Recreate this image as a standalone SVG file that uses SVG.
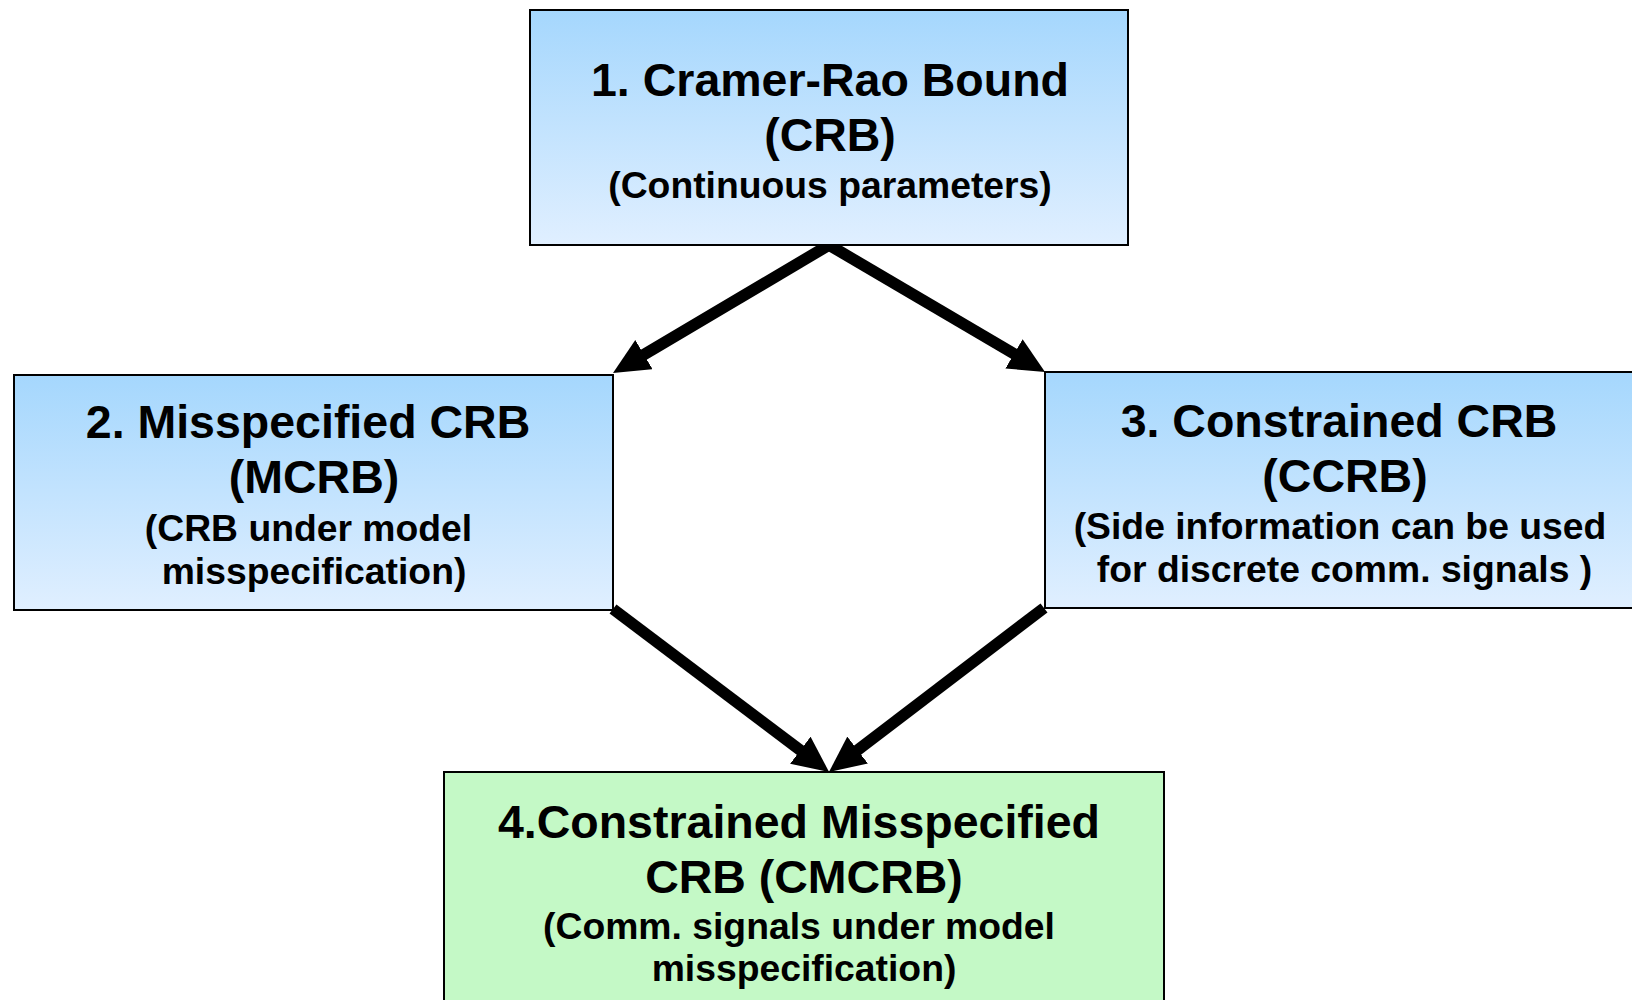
<svg xmlns="http://www.w3.org/2000/svg" width="1632" height="1000" viewBox="0 0 1632 1000">
  <style>
    .box { stroke: #000; stroke-width: 2; }
    .blue { fill: url(#blueFill); }
    .green { fill: #c4f9c6; }
    .title { font-family: "Liberation Sans", Arial, sans-serif; font-weight: bold; font-size: 46.5px; fill: #000; text-anchor: middle; }
    .sub { font-family: "Liberation Sans", Arial, sans-serif; font-weight: bold; font-size: 37.3px; fill: #000; text-anchor: middle; }
    .edge { fill: none; stroke: #000; stroke-width: 11.5; marker-end: url(#head); }
  </style>
  <defs>
    <linearGradient id="blueFill" x1="0" y1="0" x2="0" y2="1">
      <stop offset="0" stop-color="#a5d7fd"/>
      <stop offset="1" stop-color="#e0efff"/>
    </linearGradient>
    <marker id="head" markerUnits="userSpaceOnUse" viewBox="0 0 36 34" markerWidth="36" markerHeight="34" refX="16" refY="17" orient="auto">
      <path d="M0,0 L36,17 L0,34 Z" fill="#000"/>
    </marker>
  </defs>

  <rect width="1632" height="1000" fill="#fff"/>

  <!-- connectors -->
  <g id="connectors">
    <path class="edge" d="M829,245 L630.2,362.8"/>
    <path class="edge" d="M829,245 L1027.8,361.9"/>
    <path class="edge" d="M613,609 L813.1,759.9"/>
    <path class="edge" d="M1044,608 L844.9,759.8"/>
  </g>

  <!-- node 1 -->
  <g id="node-crb">
    <rect class="box blue" x="530" y="10" width="598" height="235"/>
    <text class="title" x="830" y="96">1. Cramer-Rao Bound</text>
    <text class="title" x="830" y="151">(CRB)</text>
    <text class="sub" x="830" y="198">(Continuous parameters)</text>
  </g>

  <!-- node 2 -->
  <g id="node-mcrb">
    <rect class="box blue" x="14" y="375" width="599" height="235"/>
    <text class="title" x="308" y="438">2. Misspecified CRB</text>
    <text class="title" x="314" y="493">(MCRB)</text>
    <text class="sub" x="308.5" y="541">(CRB under model</text>
    <text class="sub" x="314" y="584">misspecification)</text>
  </g>

  <!-- node 3 -->
  <g id="node-ccrb">
    <rect class="box blue" x="1045" y="372" width="600" height="236"/>
    <text class="title" x="1339" y="437">3. Constrained CRB</text>
    <text class="title" x="1345" y="492">(CCRB)</text>
    <text class="sub" x="1340" y="539">(Side information can be used</text>
    <text class="sub" x="1344.5" y="582">for discrete comm. signals )</text>
  </g>

  <!-- node 4 -->
  <g id="node-cmcrb">
    <rect class="box green" x="444" y="772" width="720" height="240"/>
    <text class="title" x="799" y="838">4.Constrained Misspecified</text>
    <text class="title" x="804" y="893">CRB (CMCRB)</text>
    <text class="sub" x="799" y="939">(Comm. signals under model</text>
    <text class="sub" x="804" y="981">misspecification)</text>
  </g>
</svg>
